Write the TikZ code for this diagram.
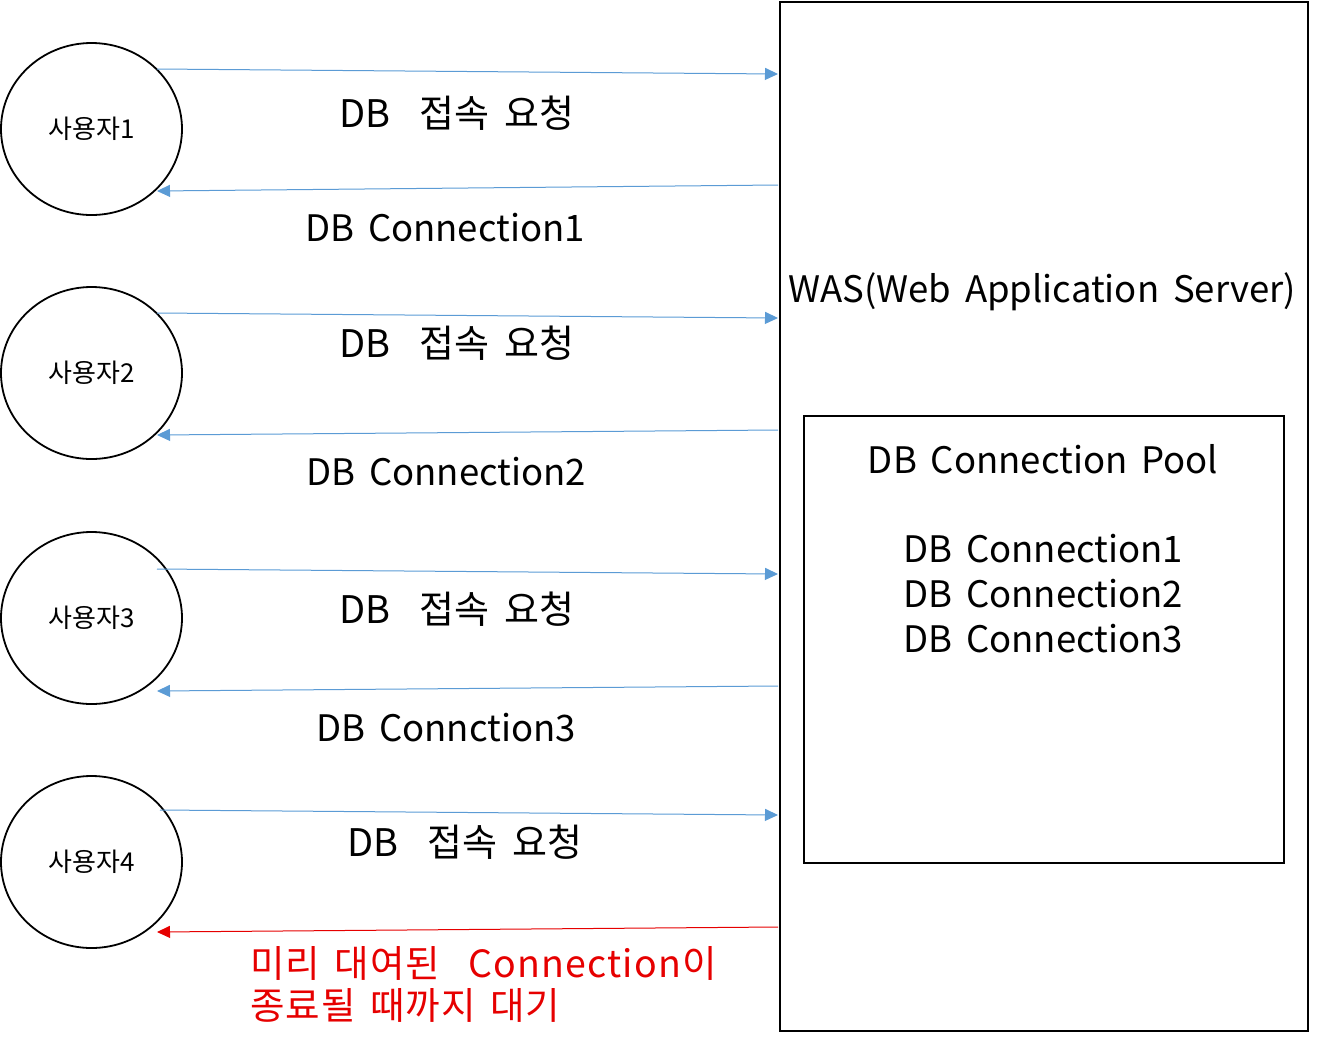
\documentclass[tikz,border=0pt]{standalone}
\usepackage{fontspec}
\setmainfont{Noto Sans CJK KR}[WordSpace=1.7]
\newfontfamily\krwide{Noto Sans CJK KR}[WordSpace=1.5,LetterSpace=3]
\usetikzlibrary{arrows.meta,shapes.geometric}
\definecolor{arrowblue}{RGB}{91,155,213}
\definecolor{warnred}{RGB}{230,0,0}
\begin{document}
\begin{tikzpicture}[x=1pt,y=-1pt,
  user/.style={draw=black,line width=1.8pt,ellipse,minimum width=181pt,minimum height=172pt,inner sep=0pt,font=\fontsize{26}{30}\selectfont},
  frame/.style={draw=black,line width=1.8pt},
  conn/.style={draw=arrowblue,line width=1pt,-{Triangle[length=13pt,width=12pt]}},
  connred/.style={draw=warnred,line width=1pt,-{Triangle[length=13pt,width=12pt]}},
  lbl/.style={font=\fontsize{36.5}{40}\selectfont,inner sep=0pt,anchor=center},
  krlbl/.style={font=\fontsize{38}{40}\selectfont,inner sep=0pt,anchor=center},
  redlbl/.style={font=\krwide\fontsize{37.5}{43}\selectfont,text=warnred,inner sep=0pt,anchor=west}]
\useasboundingbox (0,0) rectangle (1318,1053);
% WAS box
\node[frame,draw,minimum width=528pt,minimum height=1029pt,inner sep=0pt,anchor=north west] (was) at (779,1) {};
\node[lbl] (wastxt) at (1042,292) {WAS(Web Application Server)};
% Pool box
\node[frame,draw,line width=1.5pt,minimum width=480pt,minimum height=447pt,inner sep=0pt,anchor=north west] (pool) at (803,415) {};
\node[lbl] (pooltitle) at (1043,459) {DB Connection Pool};
\node[lbl] (pc1) at (1043,549) {DB Connection1};
\node[lbl] (pc2) at (1043,594) {DB Connection2};
\node[lbl] (pc3) at (1043,639) {DB Connection3};
% users
\node[user] (u1) at (91.5,129) {사용자1};
\node[user] (u2) at (91.5,373) {사용자2};
\node[user] (u3) at (91.5,618) {사용자3};
\node[user] (u4) at (91.5,862) {사용자4};
% connector endpoints
\coordinate (s1) at (157,69);  \coordinate (w1) at (778,74);
\coordinate (r1) at (778,185); \coordinate (e1) at (157,191);
\coordinate (s2) at (157,313); \coordinate (w2) at (778,318);
\coordinate (r2) at (778,430); \coordinate (e2) at (157,435);
\coordinate (s3) at (157,569); \coordinate (w3) at (778,574);
\coordinate (r3) at (778,686); \coordinate (e3) at (157,691);
\coordinate (s4) at (160,810); \coordinate (w4) at (778,815);
\coordinate (r4) at (778,927); \coordinate (e4) at (157,932);
\draw[conn] (s1) -- (w1);
\draw[conn] (r1) -- (e1);
\draw[conn] (s2) -- (w2);
\draw[conn] (r2) -- (e2);
\draw[conn] (s3) -- (w3);
\draw[conn] (r3) -- (e3);
\draw[conn] (s4) -- (w4);
\draw[connred] (r4) -- (e4);
% labels
\node[krlbl] (q1) at (457,113) {DB\ \ 접속 요청};
\node[lbl] (c1) at (445,228) {DB Connection1};
\node[krlbl] (q2) at (457,343) {DB\ \ 접속 요청};
\node[lbl] (c2) at (446,472) {DB Connection2};
\node[krlbl] (q3) at (457,609) {DB\ \ 접속 요청};
\node[lbl] (c3) at (446,728) {DB Connction3};
\node[krlbl] (q4) at (465,842) {DB\ \ 접속 요청};
\node[redlbl] (wait1) at (250,963) {미리 대여된\ \ Connection이};
\node[redlbl] (wait2) at (250,1005) {종료될 때까지 대기};
\end{tikzpicture}
\end{document}
